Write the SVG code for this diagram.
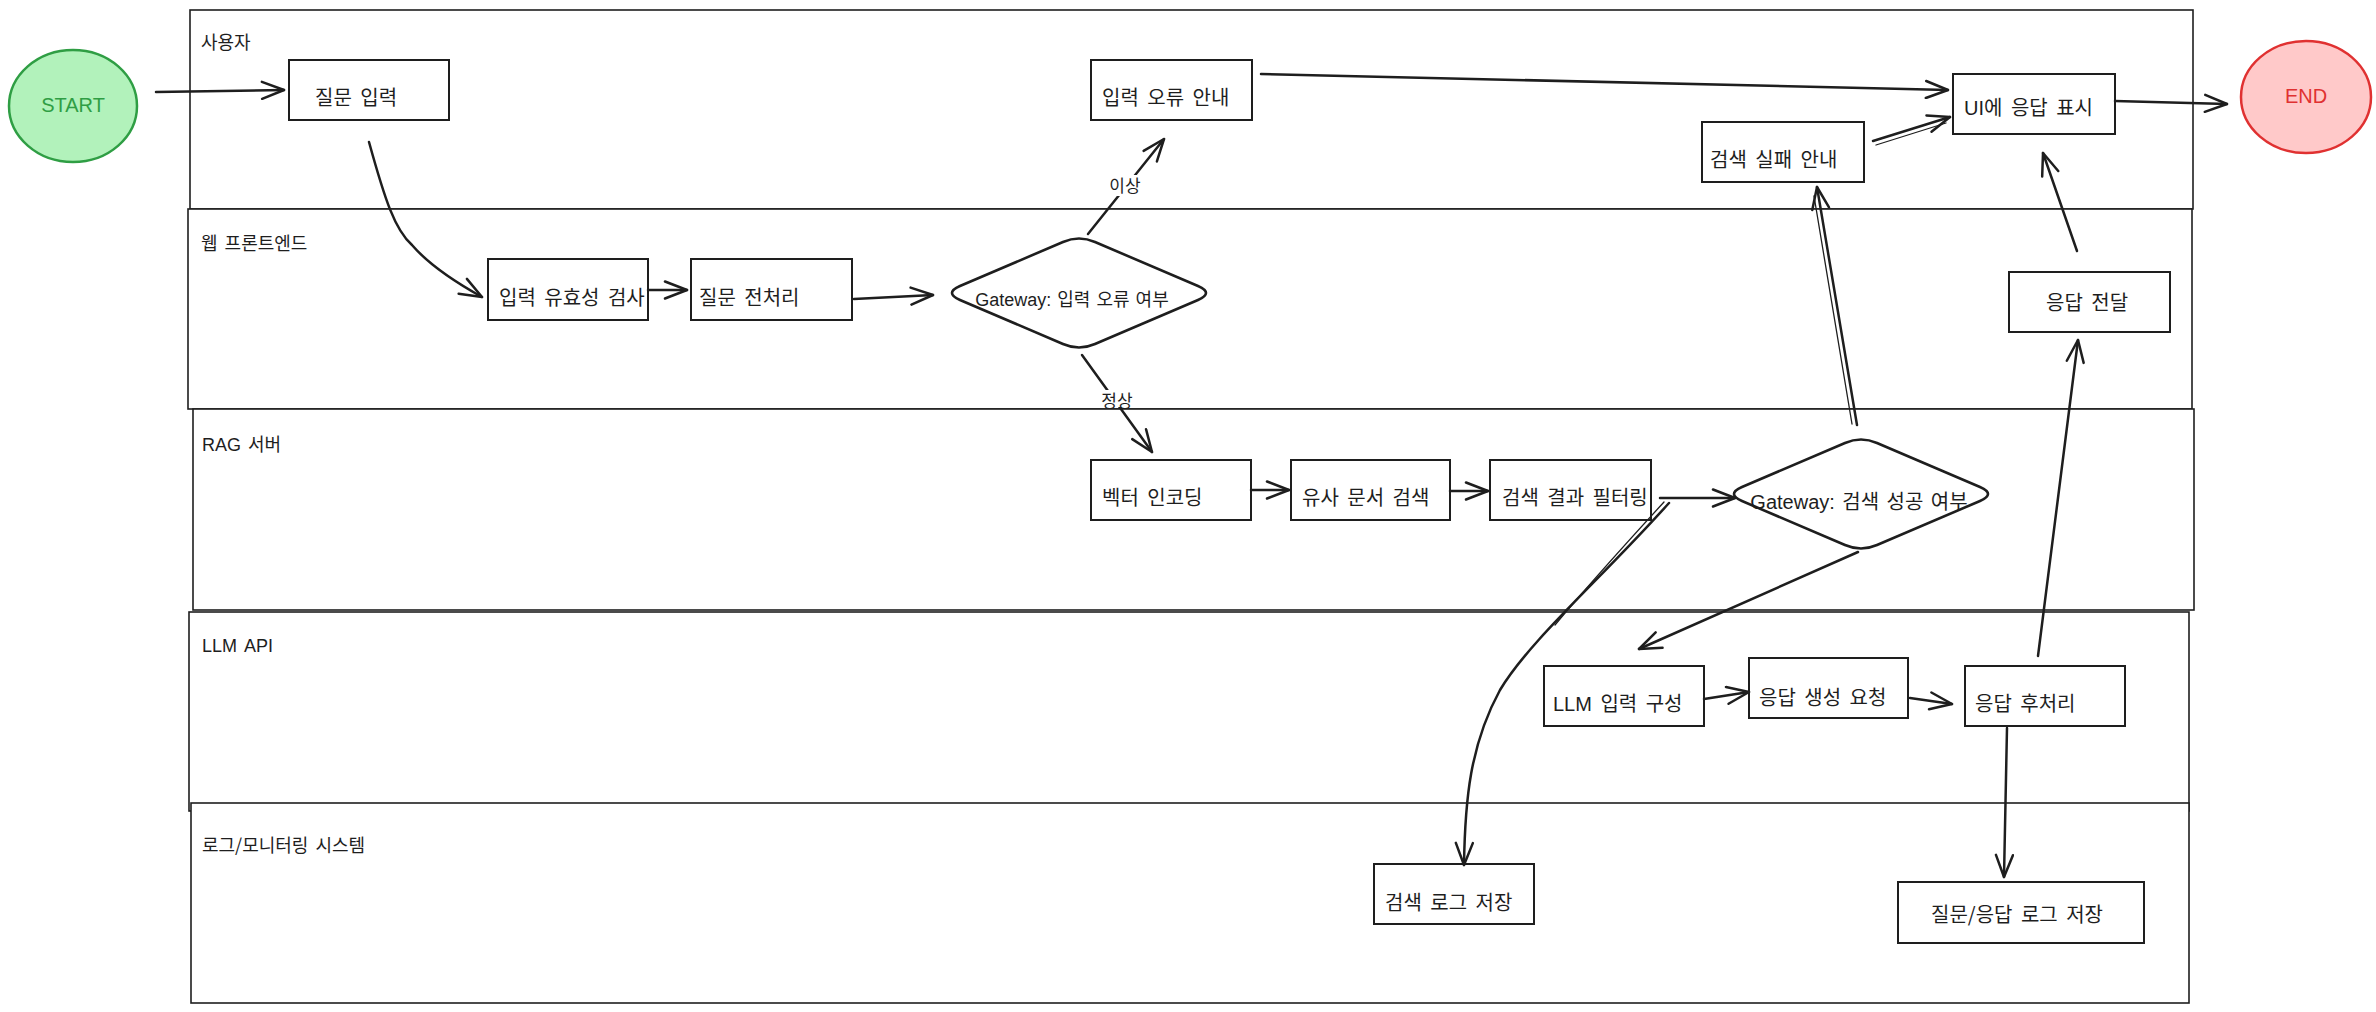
<svg xmlns="http://www.w3.org/2000/svg" width="2376" height="1012" viewBox="0 0 2376 1012">
<style>
.lane{fill:#ffffff;stroke:#1e1e1e;stroke-width:1.6}
.box{fill:#ffffff;stroke:#1e1e1e;stroke-width:2}
.dia{fill:#ffffff;stroke:#1e1e1e;stroke-width:2.6}
.t{font-family:"Noto Sans CJK KR","Noto Sans",sans-serif;font-size:20px;fill:#1e1e1e;word-spacing:4px}
.ln{font-family:"Noto Sans CJK KR","Noto Sans",sans-serif;font-size:18px;fill:#1e1e1e;word-spacing:3px}
.lat{font-family:"Liberation Sans","Noto Sans CJK KR",sans-serif}
.el{font-family:"Liberation Sans",sans-serif;font-size:20px}
.c{fill:none;stroke:#1e1e1e;stroke-width:2.5;stroke-linecap:round;stroke-linejoin:round}
.a{marker-end:url(#arr)}
.thin{fill:none;stroke:#1e1e1e;stroke-width:1.3;stroke-linecap:round}
.cl{font-family:"Noto Sans CJK KR","Noto Sans",sans-serif;font-size:17px;fill:#1e1e1e}
</style>
<defs>
<marker id="arr" viewBox="0 0 26 20" refX="24" refY="10" markerWidth="26" markerHeight="20" orient="auto" markerUnits="userSpaceOnUse">
<path d="M2,1.5 L24,10 L2,18.5" fill="none" stroke="#1e1e1e" stroke-width="2.5" stroke-linecap="round" stroke-linejoin="round"/>
</marker>
</defs>
<rect width="2376" height="1012" fill="#ffffff"/>
<g id="lanes">
<g id="lane-user"><rect class="lane" x="190" y="10" width="2003" height="199"/><text class="ln" x="201" y="49">사용자</text></g>
<g id="lane-web"><rect class="lane" x="188" y="209" width="2004" height="200"/><text class="ln" x="201" y="250">웹 프론트엔드</text></g>
<g id="lane-rag"><rect class="lane" x="193" y="409" width="2001" height="201"/><text class="ln" x="202" y="451"><tspan class="lat">RAG</tspan> 서버</text></g>
<g id="lane-llm"><rect class="lane" x="189" y="612" width="2000" height="199"/><text class="ln lat" x="202" y="652">LLM API</text></g>
<g id="lane-log"><rect class="lane" x="191" y="803" width="1998" height="200"/><text class="ln" x="202" y="852">로그/모니터링 시스템</text></g>
</g>
<g id="start"><ellipse cx="73" cy="106" rx="64" ry="56" fill="#b2f2bb" stroke="#2f9e44" stroke-width="2.5"/><text class="el" x="73" y="112" text-anchor="middle" fill="#2f9e44">START</text></g>
<g id="end"><ellipse cx="2306" cy="97" rx="65" ry="56" fill="#ffc9c9" stroke="#e03131" stroke-width="2.5"/><text class="el" x="2306" y="103" text-anchor="middle" fill="#e03131">END</text></g>
<g id="n-question"><rect class="box" x="289" y="60" width="160" height="60"/><text class="t" x="315" y="105">질문 입력</text></g>
<g id="n-input-error"><rect class="box" x="1091" y="60" width="161" height="60"/><text class="t" x="1102" y="105">입력 오류 안내</text></g>
<g id="n-ui"><rect class="box" x="1953" y="74" width="162" height="60"/><text class="t" x="1964" y="115"><tspan class="lat">UI</tspan>에 응답 표시</text></g>
<g id="n-search-fail"><rect class="box" x="1702" y="122" width="162" height="60"/><text class="t" x="1710" y="167">검색 실패 안내</text></g>
<g id="n-validate"><rect class="box" x="488" y="259" width="160" height="61"/><text class="t" x="499" y="305">입력 유효성 검사</text></g>
<g id="n-preprocess"><rect class="box" x="691" y="259" width="161" height="61"/><text class="t" x="699" y="305">질문 전처리</text></g>
<g id="gw-input"><path class="dia" d="M960,286 L1063,242 Q1079,235 1095,242 L1198,286 Q1214,293 1198,300 L1095,344 Q1079,351 1063,344 L960,300 Q944,293 960,286 Z"/><text class="t" x="1072" y="306" text-anchor="middle" style="font-size:18px;word-spacing:2px"><tspan class="lat">Gateway:</tspan> 입력 오류 여부</text></g>
<g id="n-deliver"><rect class="box" x="2009" y="272" width="161" height="60"/><text class="t" x="2046" y="310">응답 전달</text></g>
<g id="n-vector"><rect class="box" x="1091" y="460" width="160" height="60"/><text class="t" x="1102" y="505">벡터 인코딩</text></g>
<g id="n-similar"><rect class="box" x="1291" y="460" width="159" height="60"/><text class="t" x="1302" y="505">유사 문서 검색</text></g>
<g id="n-filter"><rect class="box" x="1490" y="460" width="161" height="60"/><text class="t" x="1502" y="505">검색 결과 필터링</text></g>
<g id="gw-search"><path class="dia" d="M1742,487 L1845,443 Q1861,436 1877,443 L1980,487 Q1996,494 1980,501 L1877,545 Q1861,552 1845,545 L1742,501 Q1726,494 1742,487 Z"/><text class="t" x="1859" y="509" text-anchor="middle" style="font-size:20px;word-spacing:3px"><tspan class="lat">Gateway:</tspan> 검색 성공 여부</text></g>
<g id="n-llm-input"><rect class="box" x="1544" y="666" width="160" height="60"/><text class="t" x="1553" y="711"><tspan class="lat">LLM</tspan> 입력 구성</text></g>
<g id="n-gen"><rect class="box" x="1749" y="658" width="159" height="60"/><text class="t" x="1759" y="705">응답 생성 요청</text></g>
<g id="n-post"><rect class="box" x="1965" y="666" width="160" height="60"/><text class="t" x="1975" y="711">응답 후처리</text></g>
<g id="n-search-log"><rect class="box" x="1374" y="864" width="160" height="60"/><text class="t" x="1385" y="910">검색 로그 저장</text></g>
<g id="n-qa-log"><rect class="box" x="1898" y="882" width="246" height="61"/><text class="t" x="1931" y="922">질문/응답 로그 저장</text></g>
<g id="connectors">
<path class="c a" d="M156,92 L284,90"/>
<path class="c a" d="M369,142 C385,200 395,230 412,245 C430,266 455,282 482,297"/>
<path class="c a" d="M648,290 L687,290"/>
<path class="c a" d="M854,299 L933,295"/>
<path class="c a" d="M1088,234 L1164,139"/>
<rect x="1106" y="175" width="38" height="21" fill="#ffffff"/>
<text class="cl" x="1125" y="192" text-anchor="middle">이상</text>
<path class="c a" d="M1082,355 L1152,452"/>
<rect x="1098" y="390" width="38" height="17" fill="#ffffff"/>
<text class="cl" x="1117" y="407" text-anchor="middle">정상</text>
<path class="c a" d="M1261,74 L1948,90"/>
<path class="c a" d="M1873,141 L1950,117"/>
<path class="thin" d="M1876,145 L1946,123"/>
<path class="c a" d="M2115,101 L2227,104"/>
<path class="c a" d="M2077,251 L2043,153"/>
<path class="c a" d="M1857,425 L1817,187"/>
<path class="thin" d="M1852,424 L1814,196"/>
<path class="c a" d="M2038,656 L2078,340"/>
<path class="c a" d="M1251,490 L1289,490"/>
<path class="c a" d="M1450,491 L1488,491"/>
<path class="c a" d="M1660,498 L1735,498"/>
<path class="c a" d="M1669,503 C1600,580 1530,640 1500,690 C1470,745 1465,800 1464,865"/>
<path class="thin" d="M1664,502 C1620,550 1580,595 1555,625"/>
<path class="c a" d="M1858,552 L1639,649"/>
<path class="c a" d="M1704,699 L1749,692"/>
<path class="c a" d="M1910,698 L1952,704"/>
<path class="c a" d="M2007,728 L2004,877"/>
</g>
</svg>
